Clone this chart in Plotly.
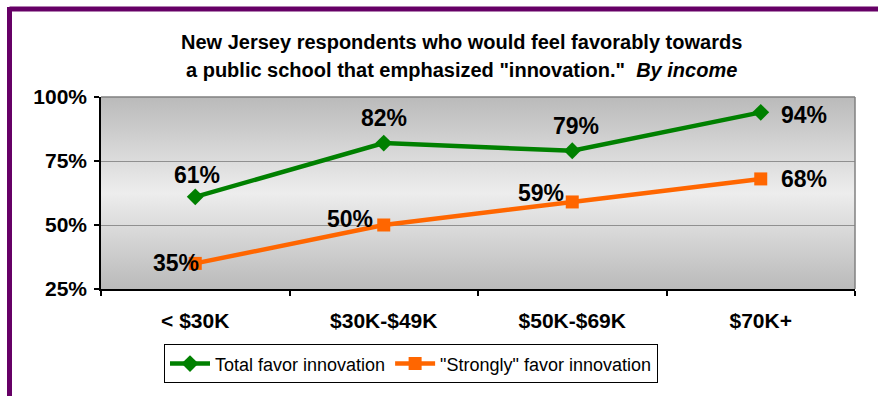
import plotly.graph_objects as go

categories = ["< $30K", "$30K-$49K", "$50K-$69K", "$70K+"]
total_favor = [61, 82, 79, 94]
strongly_favor = [35, 50, 59, 68]
y_ticks = [25, 50, 75, 100]
y_tick_labels = ["25%", "50%", "75%", "100%"]

# label placement (xshift, yshift) per point
total_label_shift = [(2, 22), (0, 25), (4, 25), (43, -3)]
strong_label_shift = [(-19, 0), (-34, 6), (-31, 9), (43, 0)]

W, H = 878, 396
ML, MR, MT, MB = 101, 23, 97, 105
PW, PH = W - ML - MR, H - MT - MB

def px_x(p):
    return (p - ML) / PW

def px_y(p):
    return (H - MB - p) / PH

fig = go.Figure()
fig.add_trace(go.Scatter(
    x=categories, y=total_favor, name="Total favor innovation",
    mode="lines+markers",
    line=dict(color="#008000", width=4.5),
    marker=dict(symbol="diamond", size=13, color="#008000"),
))
fig.add_trace(go.Scatter(
    x=categories, y=strongly_favor, name='"Strongly" favor innovation',
    mode="lines+markers",
    line=dict(color="#FF6600", width=4.5),
    marker=dict(symbol="square", size=13, color="#FF6600"),
))

label_font = dict(family="Liberation Sans, Arial", size=23, color="black", weight="bold")
annotations = []
for c, v, (dx, dy) in zip(categories, total_favor, total_label_shift):
    annotations.append(dict(x=c, y=v, text=f"{v}%", showarrow=False,
                            xshift=dx, yshift=dy, font=label_font))
for c, v, (dx, dy) in zip(categories, strongly_favor, strong_label_shift):
    annotations.append(dict(x=c, y=v, text=f"{v}%", showarrow=False,
                            xshift=dx, yshift=dy, font=label_font))

title_font = dict(family="Liberation Sans, Arial", size=20, color="black", weight="bold")
annotations.append(dict(xref="paper", yref="paper", x=px_x(461), y=px_y(41),
                        text="New Jersey respondents who would feel favorably towards",
                        showarrow=False, font=title_font, xanchor="center", yanchor="middle"))
annotations.append(dict(xref="paper", yref="paper", x=px_x(461), y=px_y(70),
                        text='a public school that emphasized "innovation."  <i>By income</i>',
                        showarrow=False, font=title_font, xanchor="center", yanchor="middle"))

grad_svg = (
    "data:image/svg+xml;utf8,"
    "<svg xmlns='http://www.w3.org/2000/svg' width='100' height='100' preserveAspectRatio='none'>"
    "<defs><linearGradient id='g' x1='0' y1='0' x2='0' y2='1'>"
    "<stop offset='0' stop-color='%23bababa'/>"
    "<stop offset='0.5' stop-color='%23ededed'/>"
    "<stop offset='1' stop-color='%23bababa'/>"
    "</linearGradient></defs>"
    "<rect width='100' height='100' fill='url(%23g)'/></svg>"
)

shapes = [
    dict(type="line", xref="paper", yref="paper", x0=0, x1=1, y0=1, y1=1,
         line=dict(color="#808080", width=1.5)),
    dict(type="line", xref="paper", yref="paper", x0=1, x1=1, y0=0, y1=1,
         line=dict(color="#808080", width=1.5)),
    dict(type="line", xref="paper", yref="paper", x0=px_x(9.5), x1=px_x(880), y0=px_y(8), y1=px_y(8),
         line=dict(color="#660066", width=5)),
    dict(type="line", xref="paper", yref="paper", x0=px_x(9.5), x1=px_x(9.5), y0=px_y(6), y1=px_y(400),
         line=dict(color="#660066", width=5)),
]

fig.update_layout(
    width=W, height=H,
    margin=dict(l=ML, r=MR, t=MT, b=MB),
    paper_bgcolor="white",
    plot_bgcolor="rgba(0,0,0,0)",
    showlegend=True,
    legend=dict(orientation="h", x=px_x(164), y=px_y(347), xanchor="left", yanchor="top",
                bgcolor="white", bordercolor="black", borderwidth=1,
                font=dict(family="Liberation Sans, Arial", size=18, color="black"),
                itemwidth=40, tracegroupgap=0),
    annotations=annotations,
    shapes=shapes,
    images=[dict(source=grad_svg, xref="paper", yref="paper", x=0, y=1, sizex=1, sizey=1,
                 xanchor="left", yanchor="top", sizing="stretch", layer="below")],
    xaxis=dict(
        type="category", range=[-0.5, 3.5],
        showline=True, linecolor="black", linewidth=1.5,
        ticks="outside", tickson="boundaries", ticklen=5, tickcolor="black", tickwidth=1.5,
        showgrid=False, ticklabelstandoff=12,
        tickfont=dict(family="Liberation Sans, Arial", size=21, color="black", weight="bold"),
    ),
    yaxis=dict(
        range=[25, 100], tickvals=y_ticks, ticktext=y_tick_labels,
        showline=True, linecolor="black", linewidth=1.5,
        ticks="outside", ticklen=5, tickcolor="black", tickwidth=1.5,
        showgrid=True, gridcolor="#909090", gridwidth=1,
        zeroline=False, ticklabelstandoff=3,
        tickfont=dict(family="Liberation Sans, Arial", size=21, color="black", weight="bold"),
    ),
)

fig.write_html("out.html")
